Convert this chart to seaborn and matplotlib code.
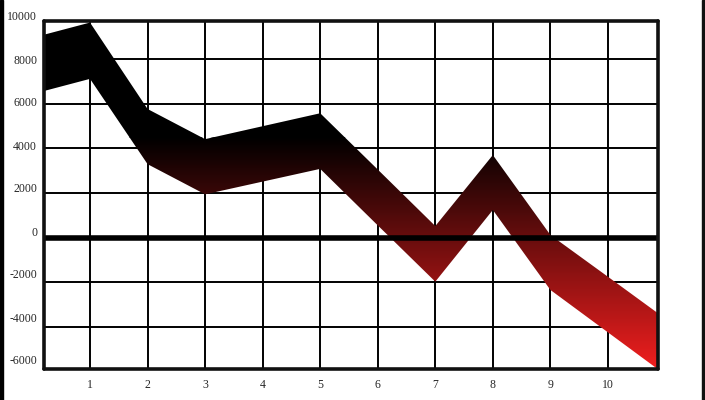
import numpy as np
import pandas as pd
import seaborn as sns
import matplotlib
matplotlib.use("Agg")
import matplotlib.pyplot as plt
from matplotlib.colors import LinearSegmentedColormap
from matplotlib.patches import Rectangle

# ---- data ----
x_vals = [0, 1, 2, 3, 4, 5, 6, 7, 8, 9, 10, 11]
upper = [8950, 9630, 5760, 4410, 4990, 5570, 3050, 520, 3700, 120, -1750, -3630]
lower = [6430, 7110, 3290, 1940, 2510, 3080, 550, -1970, 1240, -2340, -4240, -6140]
x_ticks = [1, 2, 3, 4, 5, 6, 7, 8, 9, 10]
y_grid = [-4000, -2000, 0, 2000, 4000, 6000, 8000]
y_labels = [-6000, -4000, -2000, 0, 2000, 4000, 6000, 8000, 10000]

df = pd.DataFrame({"x": x_vals, "upper": upper, "lower": lower})

sns.set_theme(style="white")
plt.rcParams['font.family'] = ['Liberation Serif', 'DejaVu Serif']

W, H = 705, 400
fig = plt.figure(figsize=(W / 100, H / 100), dpi=100)

ax = fig.add_axes([44 / W, 1 - 369 / H, (658 - 44) / W, (369 - 21) / H])
ax.set_xlim(0.2, 10.87)
ax.set_ylim(-5880, 9700)

# grid
for xv in x_ticks:
    ax.axvline(xv, color="black", lw=1.4, zorder=1)
for yv in y_grid:
    if yv != 0:
        ax.axhline(yv, color="black", lw=1.4, zorder=1)

# band edges via seaborn (invisible lines), then gradient-filled band
sns.lineplot(data=df, x="x", y="upper", ax=ax, color="black", lw=0, zorder=2)
sns.lineplot(data=df, x="x", y="lower", ax=ax, color="black", lw=0, zorder=2)
poly = ax.fill_between(df["x"], df["lower"], df["upper"], color="none", lw=0, zorder=2)

cmap = LinearSegmentedColormap.from_list("br", [(0, (0.94, 0.12, 0.12)), (1, (0, 0, 0))])
grad = np.linspace(0, 1, 256).reshape(-1, 1)
im = ax.imshow(grad, cmap=cmap, aspect="auto", origin="lower",
               extent=[0, 11, -5880, 4500], zorder=2, interpolation="bilinear")
path = poly.get_paths()[0]
im.set_clip_path(path, transform=ax.transData)
# black above the gradient region
im2 = ax.imshow(np.zeros((2, 2)), cmap=LinearSegmentedColormap.from_list("k", ["black", "black"]),
                aspect="auto", extent=[0, 11, 4480, 12000], zorder=2)
im2.set_clip_path(path, transform=ax.transData)
ax.set_xlim(0.2, 10.87)
ax.set_ylim(-5880, 9700)

# zero line
ax.axhline(0, color="black", lw=4, zorder=3)

# frame
for s in ax.spines.values():
    s.set_visible(True)
    s.set_color("#111111")
    s.set_linewidth(2.6)
    s.set_zorder(4)
    s.set_capstyle("round")

ax.set_xticks(x_ticks)
ax.set_xticklabels([str(v) for v in x_ticks], fontsize=8.5)
ax.set_yticks([])
ax.tick_params(axis="x", length=0, pad=7)
ax.set_xlabel("")
ax.set_ylabel("")

# y labels axis (labels evenly spaced, slightly compressed vs grid)
lab = fig.add_axes([44 / W, 1 - 360 / H, (658 - 44) / W, (360 - 16) / H])
lab.set_ylim(-6000, 10000)
lab.set_yticks(y_labels)
lab.set_yticklabels([str(v) for v in y_labels], fontsize=8.5)
lab.tick_params(axis="y", length=0, pad=5)
lab.set_xticks([])
lab.patch.set_visible(False)
for s in lab.spines.values():
    s.set_visible(False)

# black bars at figure edges
fig.patches.append(Rectangle((0, 0), 2.5 / W, 1, transform=fig.transFigure,
                             color="black", zorder=0))
fig.patches.append(Rectangle((1 - 3.5 / W, 0), 3.5 / W, 1, transform=fig.transFigure,
                             color="#111111", zorder=0))

fig.savefig("out.png", dpi=100)
